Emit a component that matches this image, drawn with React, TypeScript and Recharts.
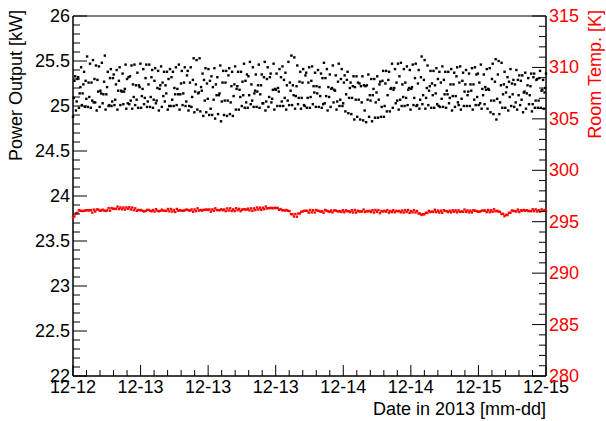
import React from 'react';
import { ScatterChart, Scatter, XAxis, YAxis, ReferenceArea } from 'recharts';

const FONT = '"Liberation Sans", Arial, Helvetica, sans-serif';
const FS = 18;

// time axis (hours since first sample), major ticks every 9 h
const xMajorTicks = [0, 9, 18, 27, 36, 45, 54, 63];
const xTickLabels = ['12-12', '12-13', '12-13', '12-13', '12-14', '12-14', '12-15', '12-15'];
const SPAN_HOURS = 63;

const powerMajorTicks = [22, 22.5, 23, 23.5, 24, 24.5, 25, 25.5, 26];
const powerTickLabels = ['22', '22.5', '23', '23.5', '24', '24.5', '25', '25.5', '26'];
const tempMajorTicks = [280, 285, 290, 295, 300, 305, 310, 315];
const tempTickLabels = ['280', '285', '290', '295', '300', '305', '310', '315'];

// Power output [kW], uniformly sampled
const powerValues = [
  24.88, 25.09, 25.28, 25.33, 24.95, 25.05, 25.30, 25.32, 24.98, 25.14, 25.21, 25.43, 25.01, 25.14, 25.24, 25.38,
  24.99, 25.28, 25.08, 25.55, 24.99, 25.26, 25.10, 25.47, 24.98, 25.26, 25.06, 25.51, 25.04, 25.30, 25.04, 25.45,
  24.95, 25.29, 25.16, 25.44, 24.99, 25.17, 25.14, 25.48, 25.03, 25.13, 25.27, 25.56, 24.96, 25.13, 25.21, 25.38,
  25.00, 25.01, 25.31, 25.41, 25.00, 25.05, 25.31, 25.35, 25.01, 25.07, 25.24, 25.40, 24.96, 25.17, 25.28, 25.43,
  25.01, 25.17, 25.16, 25.36, 25.02, 25.16, 25.19, 25.46, 24.97, 25.30, 25.03, 25.32, 25.02, 25.33, 25.06, 25.45,
  24.97, 25.24, 25.10, 25.46, 25.01, 25.23, 25.07, 25.37, 24.98, 25.23, 25.21, 25.47, 24.98, 25.11, 25.19, 25.41,
  25.02, 25.09, 25.31, 25.46, 24.99, 25.05, 25.24, 25.46, 24.99, 25.10, 25.32, 25.40, 24.98, 25.07, 25.28, 25.42,
  25.03, 25.06, 25.20, 25.39, 24.95, 25.19, 25.23, 25.44, 24.99, 25.26, 25.11, 25.38, 25.05, 25.23, 25.14, 25.38,
  24.96, 25.30, 25.00, 25.41, 25.00, 25.32, 25.07, 25.38, 25.00, 25.20, 25.13, 25.43, 25.01, 25.19, 25.13, 25.46,
  24.96, 25.13, 25.25, 25.39, 25.01, 25.14, 25.26, 25.43, 25.00, 25.05, 25.34, 25.39, 24.95, 25.00, 25.26, 25.43,
  24.99, 25.10, 25.29, 25.53, 24.93, 25.16, 25.24, 25.51, 24.96, 25.14, 25.15, 25.53, 24.94, 25.21, 25.17, 25.36,
  24.89, 25.29, 25.06, 25.42, 24.93, 25.25, 25.08, 25.41, 24.90, 25.28, 24.97, 25.33, 24.90, 25.21, 25.07, 25.42,
  24.86, 25.24, 25.12, 25.32, 24.91, 25.12, 25.14, 25.45, 24.83, 25.05, 25.26, 25.39, 24.90, 25.06, 25.26, 25.39,
  24.89, 25.06, 25.34, 25.42, 24.91, 25.04, 25.22, 25.38, 24.89, 25.11, 25.24, 25.44, 24.96, 25.19, 25.22, 25.38,
  24.96, 25.18, 25.10, 25.38, 25.00, 25.27, 25.12, 25.47, 24.98, 25.28, 25.04, 25.35, 24.98, 25.33, 25.12, 25.49,
  25.02, 25.24, 25.06, 25.43, 24.99, 25.14, 25.17, 25.35, 24.99, 25.16, 25.23, 25.46, 24.98, 25.13, 25.23, 25.35,
  25.03, 25.03, 25.32, 25.49, 24.95, 25.05, 25.30, 25.43, 24.99, 25.10, 25.32, 25.36, 25.04, 25.08, 25.18, 25.47,
  24.96, 25.19, 25.18, 25.36, 25.00, 25.20, 25.16, 25.41, 25.00, 25.32, 25.05, 25.44, 25.00, 25.29, 25.09, 25.37,
  24.96, 25.23, 25.06, 25.49, 25.01, 25.26, 25.17, 25.56, 25.01, 25.23, 25.12, 25.54, 24.97, 25.11, 25.22, 25.45,
  25.02, 25.09, 25.27, 25.38, 24.97, 25.09, 25.26, 25.41, 25.01, 25.00, 25.34, 25.37, 24.98, 25.09, 25.26, 25.43,
  24.98, 25.10, 25.28, 25.44, 25.02, 25.22, 25.15, 25.37, 24.99, 25.22, 25.14, 25.40, 24.99, 25.21, 25.11, 25.36,
  24.98, 25.31, 25.02, 25.48, 25.03, 25.31, 25.11, 25.41, 24.95, 25.21, 25.10, 25.35, 24.99, 25.19, 25.20, 25.45,
  25.04, 25.18, 25.17, 25.34, 24.96, 25.05, 25.27, 25.47, 25.00, 25.07, 25.30, 25.41, 25.00, 25.03, 25.26, 25.34,
  24.94, 25.13, 25.29, 25.38, 24.92, 25.09, 25.20, 25.26, 24.91, 25.09, 25.22, 25.33, 24.85, 25.21, 25.07, 25.33,
  24.88, 25.26, 25.07, 25.25, 24.85, 25.22, 25.04, 25.33, 24.84, 25.23, 24.95, 25.22, 24.82, 25.23, 25.07, 25.35,
  24.88, 25.12, 25.06, 25.30, 24.83, 25.12, 25.19, 25.30, 24.87, 25.04, 25.15, 25.33, 24.87, 25.07, 25.24, 25.27,
  24.88, 24.99, 25.28, 25.39, 24.88, 25.00, 25.25, 25.39, 24.94, 25.12, 25.29, 25.38, 24.94, 25.19, 25.20, 25.47,
  24.98, 25.18, 25.20, 25.41, 25.03, 25.26, 25.06, 25.47, 24.96, 25.33, 25.07, 25.48, 25.00, 25.24, 25.10, 25.41,
  25.00, 25.26, 25.09, 25.44, 25.01, 25.18, 25.20, 25.40, 24.96, 25.19, 25.21, 25.46, 25.01, 25.09, 25.31, 25.47,
  25.00, 25.01, 25.25, 25.40, 24.97, 25.07, 25.32, 25.55, 25.02, 25.12, 25.29, 25.51, 24.97, 25.09, 25.20, 25.45,
  25.01, 25.17, 25.22, 25.39, 24.98, 25.25, 25.12, 25.39, 24.98, 25.23, 25.14, 25.42, 25.02, 25.30, 25.00, 25.38,
  24.99, 25.26, 25.08, 25.44, 24.99, 25.29, 25.13, 25.38, 24.98, 25.17, 25.13, 25.38, 25.03, 25.09, 25.24, 25.41,
  24.95, 25.11, 25.24, 25.37, 24.99, 25.11, 25.33, 25.43, 25.04, 25.01, 25.26, 25.44, 24.96, 25.08, 25.28, 25.37,
  25.00, 25.16, 25.24, 25.40, 25.00, 25.12, 25.16, 25.36, 25.00, 25.24, 25.17, 25.42, 24.96, 25.24, 25.07, 25.43,
  25.01, 25.35, 25.10, 25.36, 25.01, 25.26, 25.03, 25.46, 24.97, 25.19, 25.12, 25.35, 25.02, 25.21, 25.18, 25.41,
  24.97, 25.19, 25.18, 25.42, 24.93, 25.06, 25.30, 25.47, 24.91, 25.06, 25.27, 25.52, 24.85, 25.08, 25.35, 25.50,
  24.91, 25.04, 25.23, 25.48, 24.98, 25.13, 25.24, 25.38, 24.98, 25.15, 25.21, 25.32, 24.95, 25.27, 25.10, 25.41,
  25.00, 25.25, 25.13, 25.29, 24.99, 25.24, 25.04, 25.40, 24.96, 25.29, 25.12, 25.34, 25.01, 25.28, 25.07, 25.34,
  24.93, 25.15, 25.16, 25.37, 24.97, 25.14, 25.23, 25.31, 25.02, 25.12, 25.22, 25.36, 24.94, 25.02, 25.32, 25.36,
  24.98, 25.06, 25.29, 25.30, 24.98, 25.06, 25.31, 25.39, 24.98, 25.17, 25.18, 25.29, 24.97, 25.15, 25.20, 25.36,
];

// Room temperature [K], uniformly sampled
const tempValues = [
  295.40, 295.52, 295.82, 295.87, 296.12, 296.07, 296.04, 296.05, 296.08, 296.12, 296.10, 296.10, 296.13, 295.89, 296.17, 295.99, 296.19, 296.19, 296.07, 296.08,
  296.17, 296.09, 296.05, 296.09, 296.32, 296.07, 296.33, 296.25, 296.26, 296.24, 296.47, 296.23, 296.38, 296.21, 296.38, 296.18, 296.39, 296.26, 296.40, 296.19,
  296.38, 296.12, 296.30, 296.06, 296.15, 296.12, 296.14, 296.04, 296.01, 296.04, 296.15, 296.14, 296.07, 296.02, 296.14, 295.99, 296.22, 296.05, 296.02, 296.06,
  296.17, 296.07, 296.06, 296.05, 296.24, 296.01, 296.24, 295.98, 296.14, 295.94, 296.24, 296.07, 296.11, 296.09, 296.05, 296.08, 296.16, 296.17, 296.11, 296.08,
  296.19, 295.96, 296.19, 296.03, 296.30, 296.08, 296.14, 296.08, 296.15, 296.15, 296.19, 296.14, 296.19, 295.98, 296.20, 296.06, 296.30, 296.13, 296.13, 296.12,
  296.21, 296.12, 296.19, 296.02, 296.29, 296.08, 296.30, 296.04, 296.20, 296.03, 296.31, 296.12, 296.25, 296.03, 296.18, 296.20, 296.20, 296.17, 296.27, 296.10,
  296.29, 296.05, 296.29, 296.13, 296.38, 296.18, 296.37, 296.15, 296.36, 296.22, 296.47, 296.29, 296.32, 296.33, 296.34, 296.31, 296.35, 296.33, 296.34, 296.16,
  296.23, 296.11, 296.12, 296.08, 296.14, 296.06, 296.02, 295.74, 295.73, 295.51, 295.75, 295.49, 295.79, 295.80, 295.98, 296.00, 296.06, 296.06, 296.06, 295.88,
  296.14, 295.91, 296.12, 295.89, 296.14, 296.07, 296.04, 295.97, 296.03, 295.86, 296.14, 296.07, 296.02, 295.95, 296.09, 295.91, 296.09, 296.10, 296.03, 296.00,
  296.02, 295.95, 296.12, 295.92, 296.11, 296.03, 296.01, 295.93, 296.12, 295.90, 296.14, 295.89, 296.07, 296.00, 296.00, 295.99, 296.18, 295.94, 296.05, 296.00,
  296.06, 295.94, 296.12, 295.89, 296.14, 295.96, 296.13, 295.83, 296.04, 295.99, 296.06, 295.98, 296.13, 295.88, 296.04, 295.94, 296.12, 295.92, 296.06, 296.01,
  296.05, 295.92, 296.09, 295.89, 296.13, 295.95, 296.14, 295.86, 296.04, 295.91, 296.13, 295.90, 296.04, 295.80, 295.80, 295.66, 295.73, 295.72, 295.87, 295.85,
  296.06, 295.94, 295.98, 295.95, 296.16, 295.93, 296.08, 295.89, 296.07, 295.87, 296.12, 296.05, 296.03, 295.93, 296.07, 295.91, 296.11, 295.97, 296.11, 295.91,
  296.10, 295.96, 295.99, 295.97, 296.18, 295.95, 296.10, 295.91, 296.08, 295.90, 296.12, 296.06, 296.05, 295.97, 295.99, 296.02, 296.09, 296.08, 296.08, 295.93,
  296.14, 295.92, 296.11, 295.97, 296.21, 296.01, 296.06, 295.99, 295.96, 295.75, 295.77, 295.54, 295.68, 295.64, 295.86, 295.88, 296.09, 296.05, 296.03, 295.99,
  296.18, 295.94, 296.11, 296.07, 296.14, 296.07, 296.12, 296.04, 296.04, 296.02, 296.21, 296.02, 296.20, 296.00, 296.12, 295.98, 296.20, 296.05, 296.14, 296.06,
];

const powerData = powerValues.map((v, i) => ({ t: (i * SPAN_HOURS) / (powerValues.length - 1), v }));
const tempData = tempValues.map((v, i) => ({ t: (i * SPAN_HOURS) / (tempValues.length - 1), v }));

function withMinor(majors: number[], n: number): number[] {
  const out: number[] = [];
  for (let i = 0; i < majors.length; i++) {
    out.push(majors[i]);
    if (i < majors.length - 1) {
      const step = (majors[i + 1] - majors[i]) / n;
      for (let k = 1; k < n; k++) out.push(+(majors[i] + k * step).toFixed(4));
    }
  }
  return out;
}

const findMajor = (majors: number[], v: number) => majors.findIndex((m) => Math.abs(m - v) < 1e-6);

const XTick = (props: any) => {
  const { x, y, payload } = props;
  const idx = findMajor(xMajorTicks, payload.value);
  const major = idx >= 0;
  return (
    <g>
      <line x1={x} y1={y} x2={x} y2={y - (major ? 11 : 6)} stroke="#000" strokeWidth={1} />
      {major && (
        <text x={x} y={y + 17} textAnchor="middle" fontSize={FS} fontFamily={FONT} fill="#000">
          {xTickLabels[idx]}
        </text>
      )}
    </g>
  );
};

const LeftTick = (props: any) => {
  const { x, y, payload } = props;
  const idx = findMajor(powerMajorTicks, payload.value);
  const major = idx >= 0;
  return (
    <g>
      <line x1={x} y1={y} x2={x + (major ? 14 : 7)} y2={y} stroke="#000" strokeWidth={1} />
      {major && (
        <text x={x - 3} y={y + 6} textAnchor="end" fontSize={FS} fontFamily={FONT} fill="#000">
          {powerTickLabels[idx]}
        </text>
      )}
    </g>
  );
};

const RightTick = (props: any) => {
  const { x, y, payload } = props;
  const idx = findMajor(tempMajorTicks, payload.value);
  const major = idx >= 0;
  return (
    <g>
      <line x1={x} y1={y} x2={x - (major ? 14 : 7)} y2={y} stroke="#000" strokeWidth={1} />
      {major && (
        <text x={x + 3} y={y + 6} textAnchor="start" fontSize={FS} fontFamily={FONT} fill="#ff0000">
          {tempTickLabels[idx]}
        </text>
      )}
    </g>
  );
};

const dot = (color: string, s: number) => (p: any) => (
  <rect x={p.cx - s / 2} y={p.cy - s / 2} width={s} height={s} fill={color} />
);

export default function App() {
  return (
    <div style={{ position: 'absolute', left: 0, top: 0, width: 606, height: 421, background: '#fff' }}>
      <ScatterChart width={606} height={421} margin={{ top: 16, right: 0, bottom: 0, left: 0 }}>
        <XAxis
          type="number"
          dataKey="t"
          domain={[0, SPAN_HOURS]}
          ticks={withMinor(xMajorTicks, 5)}
          interval={0}
          height={45}
          tickSize={0}
          tickMargin={0}
          tickLine={false}
          axisLine={{ stroke: '#000' }}
          tick={<XTick />}
        />
        <YAxis
          yAxisId="p"
          type="number"
          dataKey="v"
          domain={[22, 26]}
          ticks={withMinor(powerMajorTicks, 5)}
          interval={0}
          width={73}
          tickSize={0}
          tickMargin={0}
          tickLine={false}
          axisLine={{ stroke: '#000' }}
          tick={<LeftTick />}
        />
        <YAxis
          yAxisId="r"
          orientation="right"
          type="number"
          dataKey="v"
          domain={[280, 315]}
          ticks={withMinor(tempMajorTicks, 5)}
          interval={0}
          width={60}
          tickSize={0}
          tickMargin={0}
          tickLine={false}
          axisLine={{ stroke: '#000' }}
          tick={<RightTick />}
        />
        <ReferenceArea yAxisId="p" x1={0} x2={SPAN_HOURS} y1={22} y2={26} fill="none" stroke="#000" strokeWidth={1} />
        <Scatter yAxisId="p" data={powerData} fill="#000" shape={dot('#000', 2.4)} isAnimationActive={false} />
        <Scatter yAxisId="r" data={tempData} fill="#ff0000" shape={dot('#ff0000', 2.4)} isAnimationActive={false} />
      </ScatterChart>
      <svg width={606} height={421} style={{ position: 'absolute', left: 0, top: 0, pointerEvents: 'none' }}>
        <text transform="translate(22,10) rotate(-90)" textAnchor="end" fontSize={FS} fontFamily={FONT} fill="#000">
          Power Output [kW]
        </text>
        <text transform="translate(601,10) rotate(-90)" textAnchor="end" fontSize={FS} fontFamily={FONT} fill="#ff0000">
          Room Temp. [K]
        </text>
        <text x={546} y={415} textAnchor="end" fontSize={FS} fontFamily={FONT} fill="#000">
          Date in 2013 [mm-dd]
        </text>
      </svg>
    </div>
  );
}
